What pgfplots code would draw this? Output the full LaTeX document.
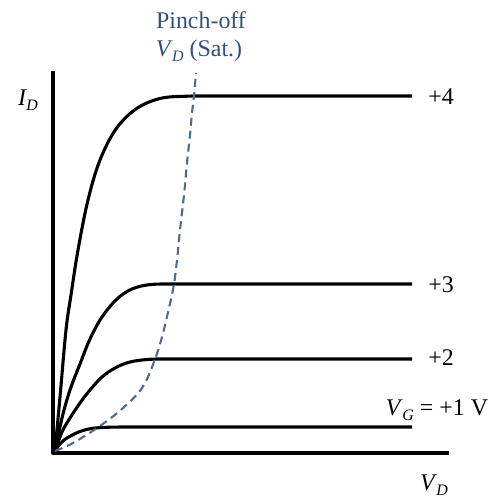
\documentclass[border=0pt]{standalone}
\usepackage{pgfplots}
\pgfplotsset{compat=1.18}
\usepackage{fontspec}
\setmainfont{Liberation Serif}
\definecolor{pinchtext}{RGB}{52,80,122}
\definecolor{pinchdash}{RGB}{82,104,140}
\newcommand\sub[2]{\textit{#1}\kern-0.5pt\raisebox{-0.45ex}{\fontsize{16}{16}\selectfont\textit{#2}}}
\begin{document}
\begin{tikzpicture}
\begin{axis}[
  width=489bp, height=500bp, scale only axis,
  xmin=0, xmax=489, ymin=0, ymax=500,
  hide axis, clip=false,
  y dir=reverse,
  every axis plot/.append style={line join=round},
]
\path (axis cs:0,0) rectangle (axis cs:489,500);
% axes
\addplot[black, line width=4bp, line cap=rect] coordinates {(53,73) (53,453) (447,453)};
% V_G = +4
\addplot[black, line width=3.1bp, smooth, tension=0.6] coordinates {
(55,451) (60,397) (66,330) (71,295) (78,250) (88,200) (100,160) (116,129) (136,109) (160,98.5) (187,96.2) (215,96) (260,96) (320,96) (380,96) (412,96)};
% V_G = +3
\addplot[black, line width=3.1bp, smooth, tension=0.6] coordinates {
(55,451) (62,418) (70,390) (80,364) (90,339) (102,317) (117,299) (132,289) (150,284.6) (175,284) (220,284) (280,284) (340,284) (412,284)};
% V_G = +2
\addplot[black, line width=3.1bp, smooth, tension=0.6] coordinates {
(55,451) (62,432) (70,418) (80,403) (90,390) (102,377) (115,368) (130,362) (150,359.3) (175,359) (220,359) (280,359) (340,359) (412,359)};
% V_G = +1
\addplot[black, line width=3.1bp, smooth, tension=0.6] coordinates {
(55,451) (60,444) (67,438) (80,431.5) (93,428.3) (110,427.2) (135,427) (180,427) (240,427) (300,427) (360,427) (412,427)};
% pinch-off locus
\addplot[pinchdash, line width=2.1bp, dash pattern=on 8bp off 5bp, smooth, tension=0.6] coordinates {
(55,451) (73,443) (100,426) (123,408) (142,388) (154,362) (162,337) (169,308) (174,284) (177,260) (180,230) (184,195) (187,163) (190,135) (192,113) (194,96) (196,73)};
% labels
\node[text=pinchtext, font=\fontsize{24}{24}\selectfont] at (axis cs:201,20) {Pinch-off};
\node[text=pinchtext, font=\fontsize{24}{24}\selectfont] at (axis cs:199,51) {\sub{V}{D} (Sat.)};
\node[font=\fontsize{24}{24}\selectfont] at (axis cs:28,100) {\sub{I}{D}};
\node[font=\fontsize{24}{24}\selectfont] at (axis cs:441,97) {+4};
\node[font=\fontsize{24}{24}\selectfont] at (axis cs:441,285) {+3};
\node[font=\fontsize{24}{24}\selectfont] at (axis cs:441,358) {+2};
\node[font=\fontsize{24}{24}\selectfont] at (axis cs:437,410) {\sub{V}{G} = +1 V};
\node[font=\fontsize{24}{24}\selectfont] at (axis cs:434,485) {\sub{V}{D}};
\end{axis}
\end{tikzpicture}
\end{document}
